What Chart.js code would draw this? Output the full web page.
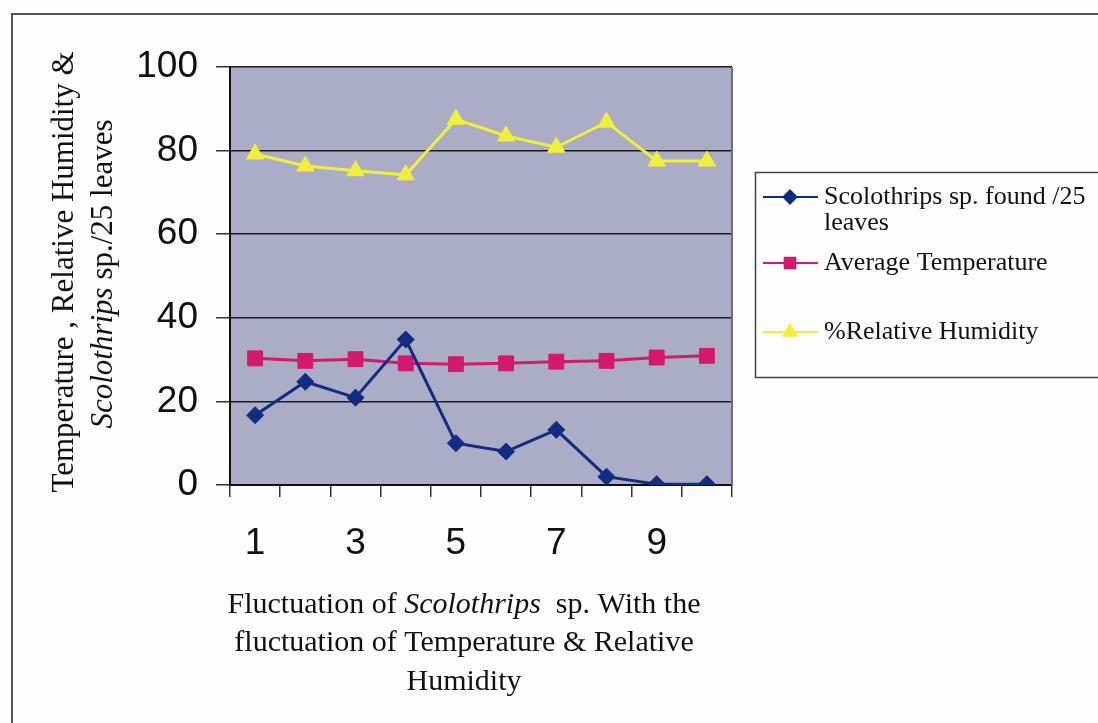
<!DOCTYPE html>
<html>
<head>
<meta charset="utf-8">
<script src="https://cdn.jsdelivr.net/npm/chart.js@4"></script>
<style>
  html, body { margin: 0; padding: 0; background: #fdfdfd; }
  canvas { display: block; }
</style>
</head>
<body>
<canvas id="chart" width="1098" height="723"></canvas>
<script>
// data
const categories = ['1', '2', '3', '4', '5', '6', '7', '8', '9', '10'];
const thripsCount = [16.7, 24.7, 20.9, 34.8, 10.0, 8.0, 13.2, 2.0, 0.2, 0.2];
const avgTemperature = [30.3, 29.7, 30.1, 29.1, 28.9, 29.1, 29.5, 29.7, 30.5, 30.9];
const relHumidity = [79.2, 76.3, 75.2, 74.2, 87.5, 83.5, 80.8, 86.8, 77.5, 77.5];
const yTicks = [0, 20, 40, 60, 80, 100];
const seriesNames = ['Scolothrips sp. found /25 leaves', 'Average Temperature', '%Relative Humidity'];

const serif = '"Liberation Serif", "Times New Roman", serif';

// draws a line of mixed normal/italic runs centred on x
function drawRuns(ctx, runs, x, y, size) {
    let total = 0;
    runs.forEach(r => {
        ctx.font = (r.italic ? 'italic ' : '') + size + 'px ' + serif;
        r.w = ctx.measureText(r.text).width;
        total += r.w;
    });
    let cx = x - total / 2;
    runs.forEach(r => {
        ctx.font = (r.italic ? 'italic ' : '') + size + 'px ' + serif;
        ctx.fillText(r.text, cx, y);
        cx += r.w;
    });
}

const decorPlugin = {
    id: 'decor',
    beforeDraw(chart) {
        const { ctx, chartArea: a } = chart;
        ctx.save();
        ctx.fillStyle = '#abacc5';
        ctx.fillRect(a.left, a.top, a.right - a.left, a.bottom - a.top);
        ctx.restore();
    },
    afterDraw(chart) {
        const { ctx, chartArea: a } = chart;
        ctx.save();
        // right border of plot
        ctx.strokeStyle = '#6d6d80';
        ctx.lineWidth = 2;
        ctx.beginPath();
        ctx.moveTo(a.right, a.top);
        ctx.lineTo(a.right, a.bottom);
        ctx.stroke();

        // outer frame
        ctx.strokeStyle = '#555';
        ctx.lineWidth = 2;
        ctx.beginPath();
        ctx.moveTo(12, 723);
        ctx.lineTo(12, 14);
        ctx.lineTo(1098, 14);
        ctx.stroke();

        ctx.fillStyle = '#111';
        ctx.textAlign = 'left';
        ctx.textBaseline = 'alphabetic';

        // x axis title
        drawRuns(ctx, [{ text: 'Fluctuation of ' }, { text: 'Scolothrips', italic: true }, { text: '  sp. With the' }], 464, 613, 30);
        drawRuns(ctx, [{ text: 'fluctuation of Temperature & Relative' }], 464, 651, 30);
        drawRuns(ctx, [{ text: 'Humidity' }], 464, 690, 30);

        // y axis title
        ctx.save();
        ctx.translate(73, 272);
        ctx.rotate(-Math.PI / 2);
        drawRuns(ctx, [{ text: 'Temperature , Relative Humidity &' }], 0, 0, 31);
        ctx.restore();
        ctx.save();
        ctx.translate(112, 274);
        ctx.rotate(-Math.PI / 2);
        drawRuns(ctx, [{ text: 'Scolothrips', italic: true }, { text: ' sp./25 leaves' }], 0, 0, 31);
        ctx.restore();

        // legend
        ctx.strokeStyle = '#444';
        ctx.lineWidth = 1.5;
        ctx.strokeRect(755.5, 172.5, 400, 205);
        const rows = [197, 263, 332];
        const styles = ['rectRot', 'rect', 'triangle'];
        const sizes = [6.5, 7.5, 7.5];
        chart.data.datasets.forEach((ds, i) => {
            const y = rows[i];
            ctx.strokeStyle = ds.borderColor;
            ctx.lineWidth = 2;
            ctx.beginPath();
            ctx.moveTo(763, y);
            ctx.lineTo(818, y);
            ctx.stroke();
            ctx.fillStyle = ds.backgroundColor;
            Chart.helpers.drawPoint(ctx, { pointStyle: styles[i], radius: sizes[i], borderWidth: 1 }, 790, y);
            ctx.fill();

            ctx.fillStyle = '#111';
            ctx.font = '26px ' + serif;
            ctx.textBaseline = 'middle';
            const words = ds.label.split(' ');
            let line = '', ly = y;
            words.forEach(w => {
                const test = line ? line + ' ' + w : w;
                if (ctx.measureText(test).width > 272 && line) {
                    ctx.fillText(line, 824, ly);
                    line = w;
                    ly += 26;
                } else {
                    line = test;
                }
            });
            ctx.fillText(line, 824, ly);
        });
        ctx.restore();
    }
};

const ctx = document.getElementById('chart').getContext('2d');
new Chart(ctx, {
    type: 'line',
    data: {
        labels: categories,
        datasets: [
            {
                label: seriesNames[0],
                data: thripsCount,
                borderColor: '#112c80',
                backgroundColor: '#112c80',
                borderWidth: 3,
                pointStyle: 'rectRot',
                pointRadius: 8.5,
                pointBorderWidth: 1
            },
            {
                label: seriesNames[1],
                data: avgTemperature,
                borderColor: '#d2186f',
                backgroundColor: '#d2186f',
                borderWidth: 3,
                pointStyle: 'rect',
                pointRadius: 10.5,
                pointBorderWidth: 1
            },
            {
                label: seriesNames[2],
                data: relHumidity,
                borderColor: '#f0f03c',
                backgroundColor: '#f0f03c',
                borderWidth: 3,
                pointStyle: 'triangle',
                pointRadius: 10,
                pointBorderWidth: 1
            }
        ]
    },
    options: {
        responsive: false,
        animation: false,
        layout: { padding: { left: 0, top: 67, right: 366, bottom: 0 } },
        plugins: {
            legend: { display: false },
            tooltip: { enabled: false }
        },
        scales: {
            x: {
                offset: true,
                afterFit: (s) => { s.height = 238; },
                grid: {
                    offset: true,
                    drawOnChartArea: false,
                    tickLength: 12,
                    tickColor: '#333',
                    lineWidth: 1.5
                },
                border: { color: '#111', width: 2 },
                ticks: {
                    autoSkip: false,
                    maxRotation: 0,
                    padding: 25,
                    color: '#111',
                    font: { family: '"Liberation Sans", Arial, sans-serif', size: 37 },
                    callback: (v, i) => (i % 2 === 0 ? categories[i] : '')
                }
            },
            y: {
                min: 0,
                max: 100,
                afterFit: (s) => { s.width = 230; },
                afterBuildTicks: (s) => { s.ticks = yTicks.map(v => ({ value: v })); },
                grid: {
                    color: '#1c1c1c',
                    lineWidth: 1.5,
                    tickLength: 14,
                    tickColor: '#333'
                },
                border: { color: '#111', width: 2 },
                ticks: {
                    padding: 18,
                    color: '#111',
                    font: { family: '"Liberation Sans", Arial, sans-serif', size: 37 }
                }
            }
        }
    },
    plugins: [decorPlugin]
});
</script>
</body>
</html>
